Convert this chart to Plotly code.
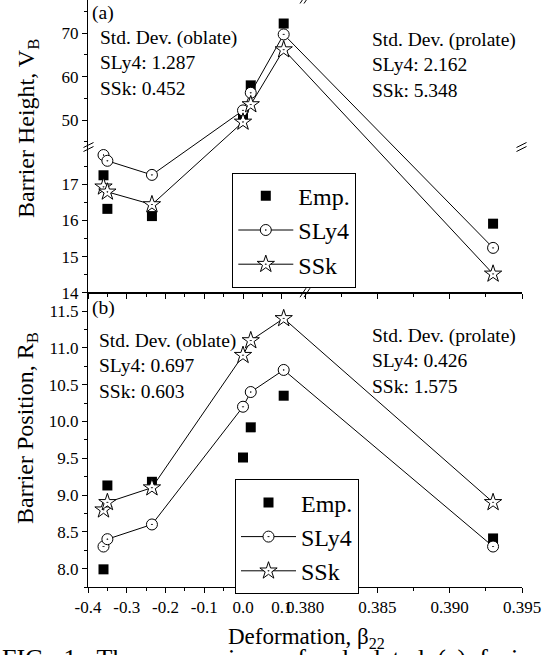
import plotly.graph_objects as go

# ---------------- data ----------------
beta = [-0.36, -0.35, -0.235, 0.0, 0.02, 0.105, 0.393]

VB_emp = [17.25, 16.32, 16.12, 50.8, 58.0, 72.2, 15.91]
VB_sly4 = [17.81, 17.65, 17.26, 52.25, 56.3, 69.7, 15.24]
VB_ssk = [16.93, 16.79, 16.44, 49.6, 53.6, 66.2, 14.52]

RB_emp = [7.99, 9.13, 9.18, 9.51, 9.92, 10.35, 8.41]
RB_sly4 = [8.30, 8.40, 8.60, 10.20, 10.40, 10.70, 8.30]
RB_ssk = [8.80, 8.90, 9.10, 10.90, 11.10, 11.40, 8.90]

x_ticks = [-0.4, -0.3, -0.2, -0.1, 0.0, 0.1, 0.380, 0.385, 0.390, 0.395]
x_tick_labels = ["-0.4", "-0.3", "-0.2", "-0.1", "0.0", "0.1", "0.380", "0.385", "0.390", "0.395"]
x_minor = [-0.35, -0.25, -0.15, -0.05, 0.05, 0.3825, 0.3875, 0.3925]

va_ticks = [14, 15, 16, 17, 50, 60, 70]
va_tick_labels = ["14", "15", "16", "17", "50", "60", "70"]
va_minor = [14.5, 15.5, 16.5, 17.5, 45, 55, 65, 75]

# ---------------- broken-axis scales ----------------
XL = (-0.4, 0.16)    # left x segment
XR = (0.38, 0.395)   # right x segment
YL = (14.0, 18.05)   # lower V_B segment
YU = (44.0, 77.6)    # upper V_B segment


def xd(b):
    if b <= XL[1]:
        return (b - XL[0]) / (XL[1] - XL[0]) * 0.5
    return 0.5 + (b - XR[0]) / (XR[1] - XR[0]) * 0.5


def yd(v):
    if v <= YL[1]:
        return (v - YL[0]) / (YL[1] - YL[0]) * 0.5
    return 0.5 + (v - YU[0]) / (YU[1] - YU[0]) * 0.5


FONT = "Liberation Serif"
W, H = 545, 655
ML, MR, MT, MB = 88, 23, 0, 68
PW, PH = W - ML - MR, H - MT - MB
D = (PH - 292.7) / PH  # panel split


def px(x):
    return (x - ML) / PW


def py(y):
    return (PH + MT - y) / PH


bx = [xd(b) for b in beta]

fig = go.Figure()

style = {
    "Emp.": dict(mode="markers", marker=dict(symbol="square", size=10, color="black")),
    "SLy4": dict(mode="lines+markers", line=dict(color="black", width=1),
                 marker=dict(symbol="circle-dot", size=11, color="white",
                             line=dict(color="black", width=1))),
    "SSk": dict(mode="lines+markers", line=dict(color="black", width=1),
                marker=dict(symbol="star-dot", size=13, color="white",
                            line=dict(color="black", width=1))),
}

for name, vals in [("Emp.", VB_emp), ("SLy4", VB_sly4), ("SSk", VB_ssk)]:
    fig.add_trace(go.Scatter(x=bx, y=[yd(v) for v in vals], name=name,
                             xaxis="x2", yaxis="y2", legend="legend",
                             cliponaxis=False, **style[name]))
for name, vals in [("Emp.", RB_emp), ("SLy4", RB_sly4), ("SSk", RB_ssk)]:
    fig.add_trace(go.Scatter(x=bx, y=vals, name=name,
                             xaxis="x", yaxis="y", legend="legend2",
                             cliponaxis=False, **style[name]))

tickfont = dict(family=FONT, size=17, color="black")
common = dict(showgrid=False, zeroline=False, showline=True, linecolor="black",
              linewidth=1, tickcolor="black", tickwidth=1, ticklen=5,
              tickfont=tickfont, automargin=False, tickangle=0)

xcommon = dict(common, domain=[0, 1], range=[0, 1], tickmode="array",
               tickvals=[xd(t) for t in x_ticks], ticktext=x_tick_labels,
               ticks="outside",
               minor=dict(tickmode="array", tickvals=[xd(t) for t in x_minor],
                          ticks="outside", ticklen=3, tickcolor="black", showgrid=False))

legend_common = dict(xanchor="left", yanchor="top", bordercolor="black", borderwidth=1,
                     bgcolor="white", font=dict(family=FONT, size=24, color="black"),
                     itemwidth=55, tracegroupgap=0)

fig.update_layout(
    width=W, height=H, template="none",
    paper_bgcolor="white", plot_bgcolor="white",
    margin=dict(l=ML, r=MR, t=MT, b=MB),
    showlegend=True,
    xaxis=dict(xcommon, anchor="y", mirror=True),
    xaxis2=dict(xcommon, anchor="y2", showticklabels=False, mirror=False),
    yaxis=dict(common, domain=[0, D], anchor="x", range=[7.75, 11.75],
               tickmode="linear", tick0=8, dtick=0.5, tickformat=".1f", ticks="outside",
               minor=dict(tick0=8, dtick=0.25, ticks="outside", ticklen=3,
                          tickcolor="black", showgrid=False)),
    yaxis3=dict(common, overlaying="y", anchor="x", side="right", range=[7.75, 11.75],
                tickmode="linear", tick0=8, dtick=0.5, ticks="inside", showticklabels=False,
                minor=dict(tick0=8, dtick=0.25, ticks="inside", ticklen=3,
                           tickcolor="black", showgrid=False)),
    yaxis2=dict(common, domain=[D, 1], anchor="x2", range=[0, 1], tickmode="array",
                tickvals=[yd(t) for t in va_ticks], ticktext=va_tick_labels, ticks="outside",
                minor=dict(tickmode="array", tickvals=[yd(t) for t in va_minor],
                           ticks="outside", ticklen=3, tickcolor="black", showgrid=False)),
    yaxis4=dict(common, overlaying="y2", anchor="x2", side="right", range=[0, 1],
                tickmode="array", tickvals=[yd(t) for t in va_ticks], ticks="inside",
                showticklabels=False,
                minor=dict(tickmode="array", tickvals=[yd(t) for t in va_minor],
                           ticks="inside", ticklen=3, tickcolor="black", showgrid=False)),
    legend=dict(legend_common, x=px(232.3), y=py(172.7)),
    legend2=dict(legend_common, x=px(235), y=py(479.3)),
)

# ---------------- text ----------------
def ann(text, x, y, size=19.5, xanchor="left", yanchor="middle", angle=0):
    fig.add_annotation(text=text, x=px(x), y=py(y), xref="paper", yref="paper",
                       xanchor=xanchor, yanchor=yanchor, textangle=angle,
                       showarrow=False, align="left",
                       font=dict(family=FONT, size=size, color="black"))


ann("Std. Dev. (oblate)<br>SLy4: 1.287<br>SSk: 0.452", 98, 63)
ann("Std. Dev. (prolate)<br>SLy4: 2.162<br>SSk: 5.348", 370, 65)
ann("Std. Dev. (oblate)<br>SLy4: 0.697<br>SSk: 0.603", 97, 365.5)
ann("Std. Dev. (prolate)<br>SLy4: 0.426<br>SSk: 1.575", 370, 360.5)
ann("(a)", 90, 13)
ann("(b)", 90, 308)
ann("Barrier Height, V<sub>B</sub>", 28, 128, size=24, xanchor="center", angle=-90)
ann("Barrier Position, R<sub>B</sub>", 27, 428, size=24, xanchor="center", angle=-90)
ann("Deformation, β<sub>22</sub>", 306, 638, size=23, xanchor="center")
caption_words = ["FIG.", "1:", "The", "comparison", "of", "calculated", "(a)", "fusion"]
ann(" \u00a0".join(caption_words), 0, 642, size=26, yanchor="top")

# ---------------- axis break marks ----------------
def brk(cx, cy, dx, dy, ox, oy):
    for s in (-1, 1):
        fig.add_shape(type="line", xref="paper", yref="paper",
                      x0=px(cx - dx + s * ox), y0=py(cy + dy + s * oy),
                      x1=px(cx + dx + s * ox), y1=py(cy - dy + s * oy),
                      line=dict(color="black", width=1))


for cy in (292.7, 586.7, -1):
    brk(305, cy, 3, 4.5, 2, 0)
for cx in (88.5, 521.5):
    brk(cx, 147, 5, 2.5, 0, 2)

fig.write_html("out.html", config={"displayModeBar": False},
               post_script="document.body.style.margin='0px';document.body.style.overflow='hidden';")
